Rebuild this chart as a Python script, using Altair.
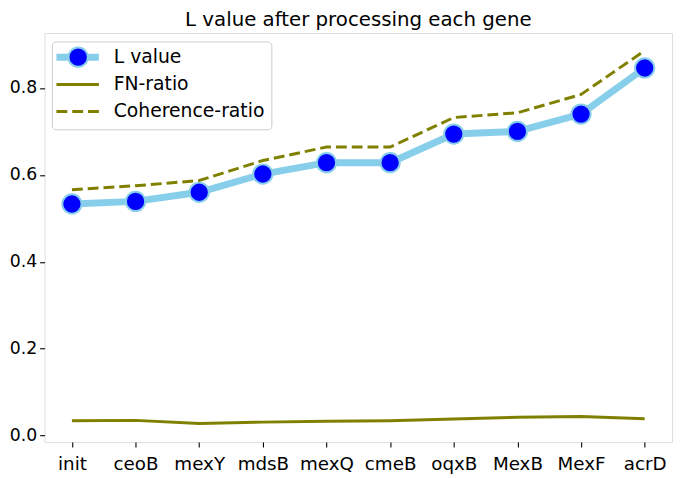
import altair as alt
import pandas as pd

genes = ["init", "ceoB", "mexY", "mdsB", "mexQ", "cmeB", "oqxB", "MexB", "MexF", "acrD"]
l_value = [0.533, 0.539, 0.560, 0.602, 0.628, 0.628, 0.694, 0.700, 0.740, 0.846]
fn_ratio = [0.034, 0.035, 0.028, 0.031, 0.033, 0.034, 0.038, 0.042, 0.044, 0.039]
coherence_ratio = [0.566, 0.575, 0.587, 0.633, 0.664, 0.664, 0.732, 0.743, 0.785, 0.886]
y_ticks = [0.0, 0.2, 0.4, 0.6, 0.8]
legend_labels = ["L value", "FN-ratio", "Coherence-ratio"]

df = pd.DataFrame({"gene": genes, "L": l_value, "FN": fn_ratio, "COH": coherence_ratio})

W, H = 635, 414
FONT = "DejaVu Sans"
OLIVE = "#808000"
SKY = "#87ceeb"

x = alt.X("gene:N", sort=genes, title=None,
          scale=alt.Scale(type="point", padding=0.43),
          axis=alt.Axis(labelAngle=0, labelFontSize=18.5, labelFont=FONT, labelColor="black",
                        tickColor="black", tickSize=5, tickWidth=1.1, labelPadding=8,
                        domain=False, grid=False))
yscale = alt.Scale(domain=[-0.015, 0.9265], nice=False, zero=False)
yaxis = alt.Axis(values=y_ticks, format=".1f", labelFontSize=17.5, labelFont=FONT,
                 labelColor="black", tickColor="black", tickSize=5, tickWidth=1.1,
                 labelPadding=3, domain=False, grid=False)

base = alt.Chart(df)

l_line = base.mark_line(color=SKY, strokeWidth=7).encode(
    x=x, y=alt.Y("L:Q", scale=yscale, axis=yaxis, title=None))
l_pts = base.mark_point(filled=True, shape="circle", size=380, color="#0000ff",
                        stroke=SKY, strokeWidth=2, opacity=1).encode(
    x=x, y=alt.Y("L:Q", scale=yscale))
fn_line = base.mark_line(color=OLIVE, strokeWidth=3).encode(
    x=x, y=alt.Y("FN:Q", scale=yscale))
coh_line = base.mark_line(color=OLIVE, strokeWidth=3, strokeDash=[11, 5]).encode(
    x=x, y=alt.Y("COH:Q", scale=yscale))

# legend (drawn inside the plot area, upper left)
one = pd.DataFrame({"k": [0]})
lg = alt.Chart(one)
box = lg.mark_rect(fill="white", fillOpacity=0.8, stroke="#cccccc", strokeWidth=1,
                   cornerRadius=4).encode(
    x=alt.value(8), x2=alt.value(230), y=alt.value(9), y2=alt.value(98))
rows_y = [24.5, 52, 79.5]
leg_l_line = lg.mark_rule(color=SKY, strokeWidth=7).encode(
    x=alt.value(12), x2=alt.value(55), y=alt.value(rows_y[0]))
leg_l_pt = lg.mark_point(filled=True, shape="circle", size=380, color="#0000ff",
                         stroke=SKY, strokeWidth=2, opacity=1).encode(
    x=alt.value(34), y=alt.value(rows_y[0]))
leg_fn = lg.mark_rule(color=OLIVE, strokeWidth=3).encode(
    x=alt.value(12), x2=alt.value(55), y=alt.value(rows_y[1]))
leg_coh = lg.mark_rule(color=OLIVE, strokeWidth=3, strokeDash=[11, 5]).encode(
    x=alt.value(12), x2=alt.value(55), y=alt.value(rows_y[2]))
texts = [
    lg.mark_text(text=legend_labels[i], align="left", baseline="middle", font=FONT,
                 fontSize=19, color="black").encode(x=alt.value(70), y=alt.value(rows_y[i]))
    for i in range(3)
]

chart = alt.layer(l_line, l_pts, fn_line, coh_line, box, leg_l_line, leg_l_pt,
                  leg_fn, leg_coh, *texts).properties(
    width=W, height=H,
    title=alt.TitleParams("L value after processing each gene", fontSize=20, font=FONT,
                          fontWeight="normal", color="black", anchor="middle", offset=3),
    autosize=alt.AutoSizeParams(type="none"),
    padding={"left": 37, "top": 22.5, "right": 5, "bottom": 33},
).configure_view(stroke="black", strokeWidth=1.1).configure(background="white")

chart.save("out.html", embed_options={"renderer": "svg", "actions": False})
